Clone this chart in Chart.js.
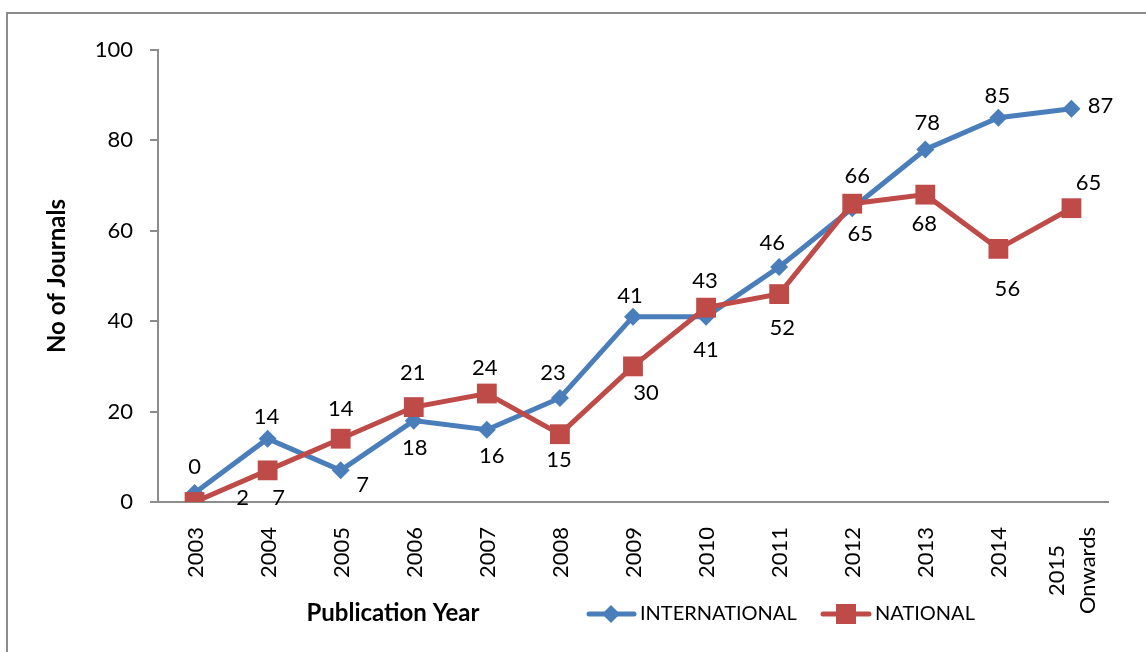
<!DOCTYPE html>
<html>
<head>
<meta charset="utf-8">
<script src="https://cdn.jsdelivr.net/npm/chart.js@4.4.1/dist/chart.umd.min.js"></script>
<style>
  html, body { margin: 0; padding: 0; background: #fff; }
  #wrap { width: 1146px; height: 652px; }
</style>
</head>
<body>
<div id="wrap"><canvas id="journalChart" width="1146" height="652"></canvas></div>
<script>
// chart data
const years = ['2003', '2004', '2005', '2006', '2007', '2008', '2009', '2010', '2011', '2012', '2013', '2014', ['2015', 'Onwards']];
const international = [2, 14, 7, 18, 16, 23, 41, 41, 52, 65, 78, 85, 87];
const national      = [0, 7, 14, 21, 24, 15, 30, 43, 46, 66, 68, 56, 65];
const yTicks = [0, 20, 40, 60, 80, 100];

// data labels as printed in the source (some are swapped there)
const intlLabels = ['0', '14', '7', '18', '16', '23', '41', '41', '46', '65', '78', '85', '87'];
const natLabels  = ['2', '7', '14', '21', '24', '15', '30', '43', '52', '66', '68', '56', '65'];
// where each label sits relative to its point
const intlLabelOffset = [[0, -27], [-1, -23], [22, 14], [1, 26], [5, 25], [-7, -26], [-3, -22], [0, 32], [-7, -25], [8, 25], [2, -28], [-1, -23], [29, -4]];
const natLabelOffset  = [[48, -5], [11, 27], [0, -31], [-1, -35], [-2, -27], [-1, 25], [13, 26], [-1, -28], [3, 33], [5, -29], [-1, 28], [9, 39], [17, -26]];

const BLUE = '#4A7EBB';
const RED  = '#BE4B48';
const FONT = 'Lato, "Open Sans", sans-serif';

function diamond(ctx, x, y, r) {
  ctx.beginPath();
  ctx.moveTo(x, y - r); ctx.lineTo(x + r, y); ctx.lineTo(x, y + r); ctx.lineTo(x - r, y);
  ctx.closePath(); ctx.fill();
}

const extras = {
  id: 'extras',
  beforeDraw(chart) {
    const ctx = chart.ctx;
    ctx.save();
    ctx.strokeStyle = '#8c8c8c';
    ctx.lineWidth = 2;
    ctx.strokeRect(7, 13, chart.width + 20, chart.height + 20);
    ctx.restore();
  },
  afterDraw(chart) {
    const ctx = chart.ctx;
    const xs = chart.scales.x;
    ctx.save();
    ctx.fillStyle = '#000';

    // rotated category labels
    ctx.font = `22px ${FONT}`;
    ctx.textBaseline = 'middle';
    years.forEach((lab, i) => {
      const lines = Array.isArray(lab) ? lab : [lab];
      const x = xs.getPixelForValue(i);
      const widths = lines.map((l) => ctx.measureText(l).width);
      const longest = Math.max(...widths);
      const lh = 31;
      ctx.save();
      ctx.translate(x - (lines.length - 1) * lh / 2, 527);
      ctx.rotate(-Math.PI / 2);
      lines.forEach((l, k) => {
        ctx.textAlign = 'center';
        ctx.fillText(l, -longest / 2, k * lh + 1);
      });
      ctx.restore();
    });

    // data labels
    ctx.textAlign = 'center';
    const put = (dsIndex, texts, offs) => {
      chart.getDatasetMeta(dsIndex).data.forEach((pt, i) => {
        ctx.fillText(texts[i], pt.x + offs[i][0], pt.y + offs[i][1] + 1);
      });
    };
    put(0, intlLabels, intlLabelOffset);
    put(1, natLabels, natLabelOffset);

    // x axis title
    ctx.font = `bold 24px ${FONT}`;
    ctx.fillText('Publication Year', 393, 613);

    // legend
    ctx.font = `20px ${FONT}`;
    ctx.textAlign = 'left';
    ctx.lineWidth = 5;
    ctx.lineCap = 'round';
    ctx.strokeStyle = BLUE; ctx.fillStyle = BLUE;
    ctx.beginPath(); ctx.moveTo(589, 614); ctx.lineTo(634, 614); ctx.stroke();
    diamond(ctx, 611, 614, 9);
    ctx.strokeStyle = RED; ctx.fillStyle = RED;
    ctx.beginPath(); ctx.moveTo(823, 614); ctx.lineTo(869, 614); ctx.stroke();
    ctx.fillRect(836, 604, 20, 20);
    ctx.fillStyle = '#000';
    ctx.fillText('INTERNATIONAL', 640, 614);
    ctx.fillText('NATIONAL', 875, 614);
    ctx.restore();
  },
};

new Chart(document.getElementById('journalChart'), {
  type: 'line',
  data: {
    labels: years,
    datasets: [
      {
        label: 'INTERNATIONAL', data: international, order: 1,
        borderColor: BLUE, backgroundColor: BLUE, borderWidth: 5,
        pointStyle: 'rectRot', pointRadius: 9, pointBorderWidth: 0, pointBackgroundColor: BLUE,
      },
      {
        label: 'NATIONAL', data: national, order: 0,
        borderColor: RED, backgroundColor: RED, borderWidth: 5,
        pointStyle: 'rect', pointRadius: 14, pointBorderWidth: 0, pointBackgroundColor: RED,
      },
    ],
  },
  options: {
    responsive: false,
    animation: false,
    layout: { padding: { top: 50, right: 38, left: 0, bottom: 0 } },
    plugins: { legend: { display: false }, tooltip: { enabled: false } },
    scales: {
      x: {
        offset: true,
        grid: { display: false },
        border: { color: '#8c8c8c', width: 2 },
        ticks: { display: false },
        afterFit: (s) => { s.height = 150; },
      },
      y: {
        min: 0, max: 100,
        afterBuildTicks: (s) => { s.ticks = yTicks.map((v) => ({ value: v })); },
        grid: { drawOnChartArea: false, tickLength: 8, color: '#8c8c8c', lineWidth: 2 },
        border: { color: '#8c8c8c', width: 2 },
        ticks: { color: '#000', padding: 17, font: { family: FONT, size: 22 } },
        title: {
          display: true, text: 'No of Journals', color: '#000',
          font: { family: FONT, size: 24, weight: 'bold' }, padding: { top: 43, bottom: 0 },
        },
        afterFit: (s) => { s.width = 158; },
      },
    },
  },
  plugins: [extras],
});
</script>
</body>
</html>
